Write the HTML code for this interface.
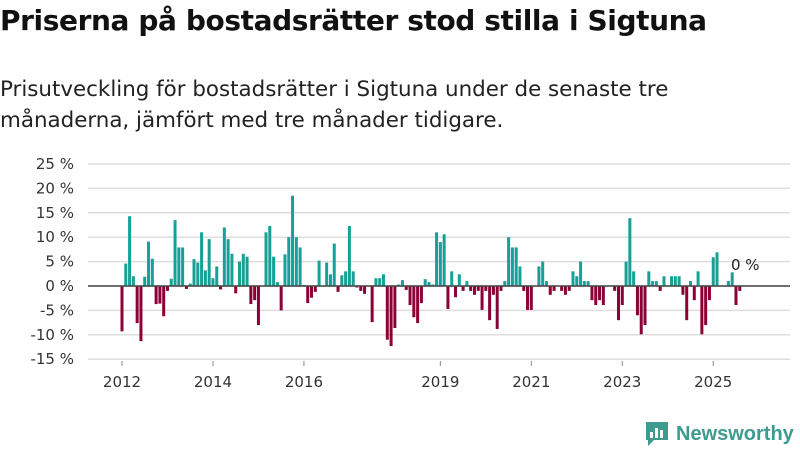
<!DOCTYPE html>
<html><head><meta charset="utf-8"><style>
body{margin:0;background:#fff;width:800px;height:450px;overflow:hidden;font-family:"DejaVu Sans",sans-serif;}
#title{position:absolute;left:0;top:4px;font-size:28px;font-weight:bold;color:#111;margin:0;white-space:nowrap;letter-spacing:-0.4px;}
#sub{position:absolute;left:0;top:74px;font-size:21.4px;line-height:31px;color:#222;white-space:nowrap;}
svg{position:absolute;left:0;top:0;}
</style></head><body>
<h1 id="title">Priserna på bostadsrätter stod stilla i Sigtuna</h1>
<div id="sub">Prisutveckling för bostadsrätter i Sigtuna under de senaste tre<br>månaderna, jämfört med tre månader tidigare.</div>
<svg id="chart" width="800" height="450"></svg>
<script>
const values=[-9.3,4.6,14.3,2,-7.6,-11.3,1.9,9.1,5.6,-3.7,-3.6,-6.2,-1,1.5,13.5,7.9,7.9,-0.6,0.5,5.5,4.8,11,3.2,9.6,1.6,4,-0.7,12,9.6,6.6,-1.5,5,6.6,6,-3.7,-2.9,-8,0,11,12.3,6,0.8,-5,6.5,10,18.5,10,7.9,0.2,-3.5,-2.4,-1.2,5.2,0,4.8,2.4,8.7,-1.2,2.2,3,12.3,3,-0.3,-1,-1.6,0,-7.4,1.6,1.6,2.4,-11,-12.3,-8.6,0.3,1.2,-0.8,-3.9,-6.4,-7.6,-3.5,1.4,0.8,0.3,11,9,10.6,-4.7,3,-2.3,2.4,-1,1,-1,-1.8,-1,-4.9,-1,-7,-1.8,-8.8,-1,1,10,7.9,7.9,4,-1,-4.9,-4.9,0,4,5,1,-1.8,-1,0,-1,-1.8,-1,3,2,5,1,1,-2.9,-3.9,-2.9,-3.9,0,0,-1,-7,-3.9,5,13.9,3,-6,-9.9,-8,3,1,1,-1,2,0,2,2,2,-1.8,-7,1,-2.9,3,-9.9,-8,-2.9,5.9,6.9,0,0,1,2.8,-3.9,-1];
const yTicks=[25,20,15,10,5,0,-5,-10,-15];
const xYears=[2012,2014,2016,2019,2021,2023,2025];
const startYear=2012;
const svg=document.getElementById('chart');
const NS='http://www.w3.org/2000/svg';
const y=v=>286-v*4.88;
const x=i=>122+i*3.79;
function mk(t,a){const e=document.createElementNS(NS,t);for(const k in a)e.setAttribute(k,a[k]);svg.appendChild(e);return e;}
yTicks.forEach(t=>{
  const g=mk('line',{x1:88,x2:790,y1:y(t),y2:y(t),stroke:'#dedede','stroke-width':1.5});
  
  
  const l=mk('text',{x:74,y:y(t)+5,'text-anchor':'end','font-size':15,fill:'#333','font-family':'DejaVu Sans, sans-serif'});
  l.textContent=t+' %';
  
  
});
values.forEach((v,i)=>{
  const r=mk('rect',{x:x(i)-1.5,y:Math.min(y(v),y(0)),width:3,height:Math.abs(y(v)-y(0)),fill:v>=0?'#16a096':'#8c0036'});
  
  
});
const z=mk('line',{x1:88,x2:790,y1:y(0),y2:y(0),stroke:'#444','stroke-width':1.5});


xYears.forEach(yr=>{
  const xi=x((yr-startYear)*12);
  const t=mk('line',{x1:xi,x2:xi,y1:361,y2:366,stroke:'#888'});
  
  
  const l=mk('text',{x:xi,y:387,'text-anchor':'middle','font-size':15,fill:'#333','font-family':'DejaVu Sans, sans-serif'});
  l.textContent=yr;
  
  
});
const lab=mk('text',{x:731,y:270,'font-size':15,fill:'#222','font-family':'DejaVu Sans, sans-serif'});
lab.textContent='0 %';


</script>
<div style="position:absolute;left:644px;top:420px;display:flex;align-items:center;font-family:'Liberation Sans',sans-serif;">
<svg width="26" height="28" style="position:static"><path d="M2 2h22v18H10l-6 6v-6H2z" fill="#3d9b8f"/><rect x="6" y="12" width="3" height="6" fill="#fff"/><rect x="11" y="8" width="3" height="10" fill="#fff"/><rect x="16" y="10" width="3" height="8" fill="#fff"/></svg>
<span style="font-size:20px;font-weight:bold;color:#3d9b8f;margin-left:6px;">Newsworthy</span></div>
</body></html>
